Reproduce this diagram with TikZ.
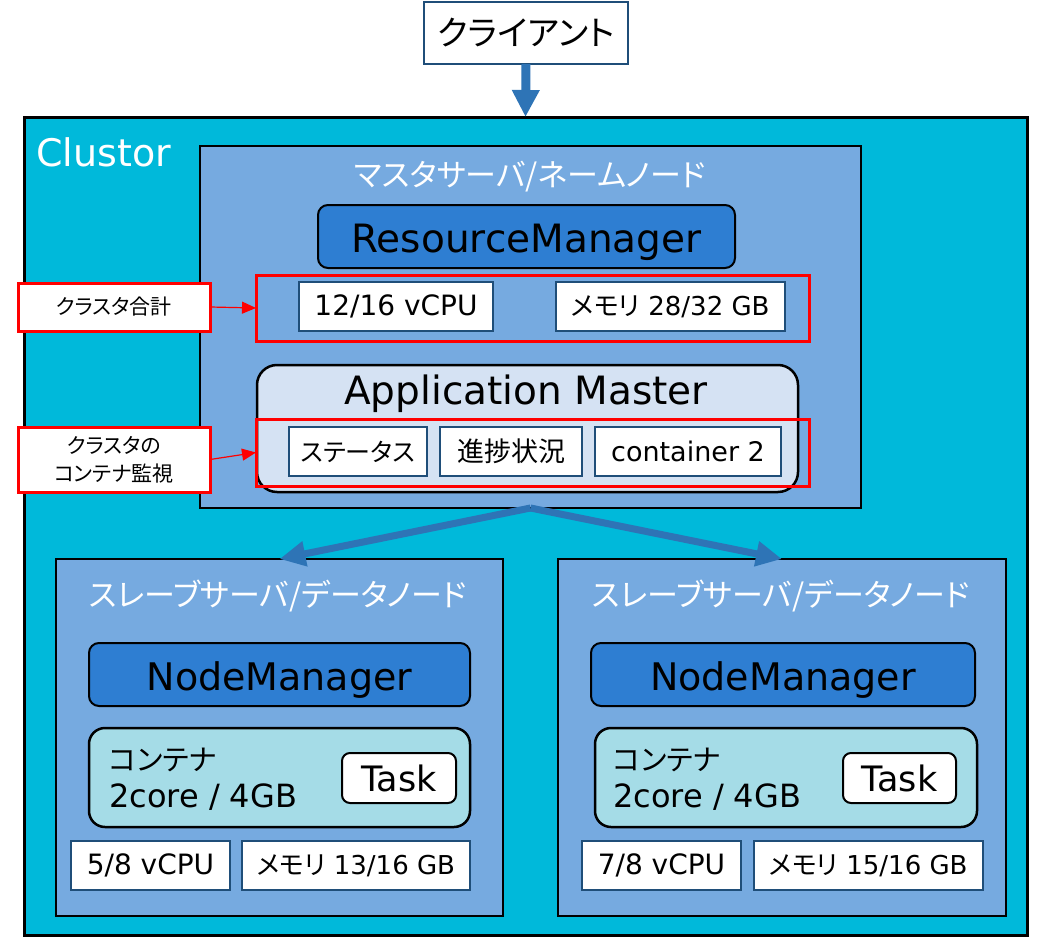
\documentclass[tikz,border=0pt]{standalone}
\usepackage{fontspec}
\setmainfont{DejaVu Sans}
\newfontfamily\jp[CharacterWidth=AlternateProportional]{Noto Sans CJK JP}
\usetikzlibrary{arrows.meta}
\definecolor{clu}{RGB}{0,185,218}
\definecolor{srv}{RGB}{118,170,224}
\definecolor{rmc}{RGB}{46,126,210}
\definecolor{amc}{RGB}{213,226,243}
\definecolor{cont}{RGB}{165,220,231}
\definecolor{arr}{RGB}{46,116,182}
\definecolor{bdr}{RGB}{31,78,121}
\newcommand{\fs}[1]{\fontsize{#1}{#1}\selectfont}
\tikzset{
  bx/.style={anchor=north west, inner sep=0pt, outer sep=0pt},
  server/.style={bx, fill=srv, draw=black, line width=2.5pt},
  mgr/.style={bx, fill=rmc, draw=black, line width=2pt, rounded corners=10pt, text height=36pt, text depth=5pt},
  valbox/.style={bx, fill=white, draw=bdr, line width=2pt},
  redbox/.style={bx, draw=red, line width=3pt},
  lbl/.style={bx, fill=white, draw=red, line width=3pt, align=center},
  wtitle/.style={text=white, inner sep=0pt},
  bluearrow/.style={draw=arr, line width=7pt, -{Triangle[length=26pt,width=24pt]}},
}
\begin{document}
\begin{tikzpicture}[x=1pt,y=-1pt]
\useasboundingbox (0,0) rectangle (1050,942);
\fill[white] (0,0) rectangle (1050,942);

% client
\node[valbox, minimum width=204pt, minimum height=62pt] (client) at (424,2) {\jp\fs{34}クライアント};

% cluster
\node[bx, fill=clu, draw=black, line width=3pt, minimum width=1003pt, minimum height=818pt] (cluster) at (24,117) {};
\node[wtitle, anchor=west] (clutitle) at (36,152) {\fs{38}Clustor};

\draw[draw=arr, line width=9pt, -{Triangle[length=27pt,width=26pt]}] (client.south) -- (cluster.north);

% master
\node[server, minimum width=661pt, minimum height=362pt] (master) at (200,146) {};
\node[wtitle] (mtitle) at (530,177) {\jp\fs{31}マスタサーバ/ネームノード};
\node[mgr, minimum width=417pt, minimum height=63pt] (rm) at (318,205) {\fs{39}ResourceManager};

\node[bx, fill=amc, draw=black, line width=2.5pt, rounded corners=20pt, minimum width=541pt, minimum height=127pt] (am) at (257,365) {};
\node[inner sep=0pt, anchor=base] (amtitle) at (526,404) {\fs{39}Application Master};

\node[redbox, minimum width=553pt, minimum height=66pt] (red1) at (256,275) {};
\node[redbox, minimum width=553pt, minimum height=67pt] (red2) at (256,419) {};

\node[valbox, minimum width=194pt, minimum height=49pt] (cpu1) at (299,282) {\fs{28}12/16 vCPU};
\node[valbox, minimum width=229pt, minimum height=49pt] (mem1) at (556,282) {\fs{26}{\jp メモリ} 28/32 GB};

\node[valbox, minimum width=138pt, minimum height=49pt] (st) at (289,427) {\jp\fs{25}ステータス};
\node[valbox, minimum width=142pt, minimum height=49pt] (sh) at (440,427) {\jp\fs{27}進捗状況};
\node[valbox, minimum width=186pt, minimum height=49pt] (c2) at (595,427) {\fs{27}container 2};

% labels
\node[lbl, minimum width=192pt, minimum height=48pt, font={\jp\fontsize{21}{28}\selectfont}] (lab1) at (18,283) {クラスタ合計};
\node[lbl, minimum width=192pt, minimum height=65pt, font={\jp\fontsize{21}{28}\selectfont}] (lab2) at (18,427) {クラスタの\\コンテナ監視};
\draw[red, line width=1.2pt, -{Triangle[length=14pt,width=12pt]}] (lab1.east) -- (red1.west);
\draw[red, line width=1.2pt, -{Triangle[length=14pt,width=12pt]}] (lab2.east) -- (red2.west);

% slaves
\node[server, minimum width=447pt, minimum height=357pt] (slaveL) at (56,559) {};
\node[server, minimum width=448pt, minimum height=357pt] (slaveR) at (558,559) {};
\draw[bluearrow] (master.south) -- (slaveL.north);
\draw[bluearrow] (master.south) -- (slaveR.north);

\node[wtitle] (tL) at (278,596) {\jp\fs{31}スレーブサーバ/データノード};
\node[wtitle] (tR) at (781,596) {\jp\fs{31}スレーブサーバ/データノード};

\node[mgr, minimum width=381pt, minimum height=63pt] (nmL) at (89,643) {\fs{38}NodeManager};
\node[mgr, minimum width=384pt, minimum height=63pt] (nmR) at (591,643) {\fs{38}NodeManager};

\node[bx, fill=cont, draw=black, line width=2.5pt, rounded corners=16pt, minimum width=381pt, minimum height=99pt] (coL) at (89,728) {};
\node[bx, fill=cont, draw=black, line width=2.5pt, rounded corners=16pt, minimum width=382pt, minimum height=99pt] (coR) at (595,728) {};

\node[inner sep=0pt, anchor=west] (ctL) at (109,760) {\jp\fs{29}コンテナ};
\node[inner sep=0pt, anchor=west] (csL) at (109,797) {\fs{32}2core / 4GB};
\node[inner sep=0pt, anchor=west] (ctR) at (613,760) {\jp\fs{29}コンテナ};
\node[inner sep=0pt, anchor=west] (csR) at (613,797) {\fs{32}2core / 4GB};

\node[bx, fill=white, draw=black, line width=2pt, rounded corners=8pt, minimum width=114pt, minimum height=50pt] (taskL) at (342,753) {\fs{35}Task};
\node[bx, fill=white, draw=black, line width=2pt, rounded corners=8pt, minimum width=113pt, minimum height=50pt] (taskR) at (843,753) {\fs{35}Task};

\node[valbox, minimum width=159pt, minimum height=49pt] (cpuL) at (71,841) {\fs{28}5/8 vCPU};
\node[valbox, minimum width=228pt, minimum height=49pt] (memL) at (242,841) {\fs{26}{\jp メモリ} 13/16 GB};
\node[valbox, minimum width=159pt, minimum height=49pt] (cpuR) at (582,841) {\fs{28}7/8 vCPU};
\node[valbox, minimum width=229pt, minimum height=49pt] (memR) at (754,841) {\fs{26}{\jp メモリ} 15/16 GB};
\end{tikzpicture}
\end{document}
